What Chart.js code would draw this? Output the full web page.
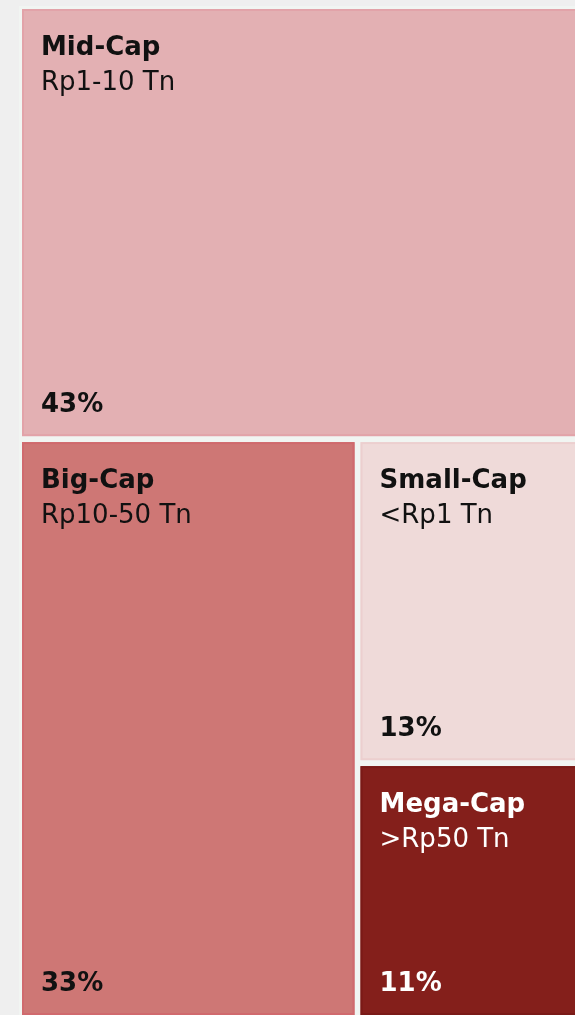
<!DOCTYPE html>
<html>
<head>
<meta charset="utf-8">
<script src="https://cdn.jsdelivr.net/npm/chart.js@4.4.1/dist/chart.umd.min.js"></script>
<style>
  html, body { margin: 0; padding: 0; background: #efefef; overflow: hidden; width: 575px; height: 1015px; }
  #wrap { position: absolute; left: 0; top: 0; width: 606px; height: 1020px; }
</style>
</head>
<body>
<div id="wrap"><canvas id="c"></canvas></div>
<script>
// ---- data ----
const categories = ['Mid-Cap', 'Big-Cap', 'Small-Cap', 'Mega-Cap'];
const ranges = ['Rp1-10 Tn', 'Rp10-50 Tn', '<Rp1 Tn', '>Rp50 Tn'];
const shares = [42.8, 33.1, 13.49, 10.61];
const fills = ['#e3b0b3', '#ce7775', '#efdad9', '#841f1b'];
const borders = ['#e2a3a9', '#d06a6e', '#eccfcf', '#7a1a17'];
const textColors = ['#111111', '#111111', '#111111', '#ffffff'];

// squarified layout in data units (x: 0..100, y: 0..100), aspect from pixels
function squarify(values, rect, pxPerX, pxPerY) {
  const out = [];
  let items = values.map((v, i) => ({ v, i }));
  let r = Object.assign({}, rect);
  const total = values.reduce((a, b) => a + b, 0);
  const areaScale = (rect.w * rect.h) / total;
  const pxArea = pxPerX * pxPerY;
  while (items.length) {
    const wPx = r.w * pxPerX, hPx = r.h * pxPerY;
    const alongWidth = wPx <= hPx;
    const sidePx = alongWidth ? wPx : hPx;
    function worstPx(row) {
      const s = row.reduce((a, b) => a + b.v * areaScale * pxArea, 0);
      const len = s / sidePx;
      let w = 0;
      row.forEach(it => {
        const other = it.v * areaScale * pxArea / len;
        w = Math.max(w, Math.max(len / other, other / len));
      });
      return w;
    }
    let row = [items[0]];
    let k = 1;
    while (k < items.length && worstPx(row.concat(items[k])) <= worstPx(row)) {
      row.push(items[k]); k++;
    }
    items = items.slice(k);
    const rowSum = row.reduce((a, b) => a + b.v * areaScale, 0);
    if (alongWidth) {
      const th = rowSum / r.w;
      let x = r.x;
      row.forEach(it => {
        const ww = it.v * areaScale / th;
        out[it.i] = { x0: x, x1: x + ww, y0: r.y, y1: r.y + th };
        x += ww;
      });
      r = { x: r.x, y: r.y + th, w: r.w, h: r.h - th };
    } else {
      const th = rowSum / r.h;
      let y = r.y;
      row.forEach(it => {
        const hh = it.v * areaScale / th;
        out[it.i] = { x0: r.x, x1: r.x + th, y0: y, y1: y + hh };
        y += hh;
      });
      r = { x: r.x + th, y: r.y, w: r.w - th, h: r.h };
    }
  }
  return out;
}

const treemapPlugin = {
  id: 'treemapCells',
  afterDatasetsDraw(chart) {
    const ctx = chart.ctx;
    const xs = chart.scales.x, ys = chart.scales.y;
    const ca = chart.chartArea;
    ctx.save();
    ctx.fillStyle = '#f1f5f2';
    ctx.fillRect(ca.left, ca.top, ca.right - ca.left, ca.bottom - ca.top);
    const pxPerX = (ca.right - ca.left) / 100, pxPerY = (ca.bottom - ca.top) / 100;
    const cells = squarify(shares, { x: 0, y: 0, w: 100, h: 100 }, pxPerX, pxPerY);
    const gap = 3;
    cells.forEach((c, i) => {
      const L = xs.getPixelForValue(c.x0) + gap;
      const R = xs.getPixelForValue(c.x1) - gap;
      const T = ys.getPixelForValue(c.y0) + gap;
      const B = ys.getPixelForValue(c.y1) - gap;
      ctx.fillStyle = fills[i];
      ctx.fillRect(L, T, R - L, B - T);
      ctx.strokeStyle = borders[i];
      ctx.lineWidth = 2;
      ctx.strokeRect(L + 1, T + 1, R - L - 2, B - T - 2);
      ctx.fillStyle = textColors[i];
      ctx.textAlign = 'left';
      ctx.textBaseline = 'alphabetic';
      ctx.font = 'bold 26px "DejaVu Sans"';
      ctx.fillText(categories[i], L + 19, T + 46);
      ctx.font = '26px "DejaVu Sans"';
      ctx.fillText(ranges[i], L + 19, T + 81);
      ctx.font = 'bold 26px "DejaVu Sans"';
      ctx.fillText(Math.round(shares[i]) + '%', L + 19, B - 24);
    });
    ctx.restore();
  }
};

new Chart(document.getElementById('c'), {
  type: 'scatter',
  data: { datasets: [{ data: [], pointRadius: 0 }] },
  options: {
    responsive: true,
    maintainAspectRatio: false,
    animation: false,
    layout: { padding: { left: 19, top: 6, right: 2, bottom: 2 } },
    plugins: { legend: { display: false }, tooltip: { enabled: false } },
    scales: {
      x: { type: 'linear', min: 0, max: 100, display: false },
      y: { type: 'linear', min: 0, max: 100, reverse: true, display: false }
    }
  },
  plugins: [treemapPlugin]
});
</script>
</body>
</html>
